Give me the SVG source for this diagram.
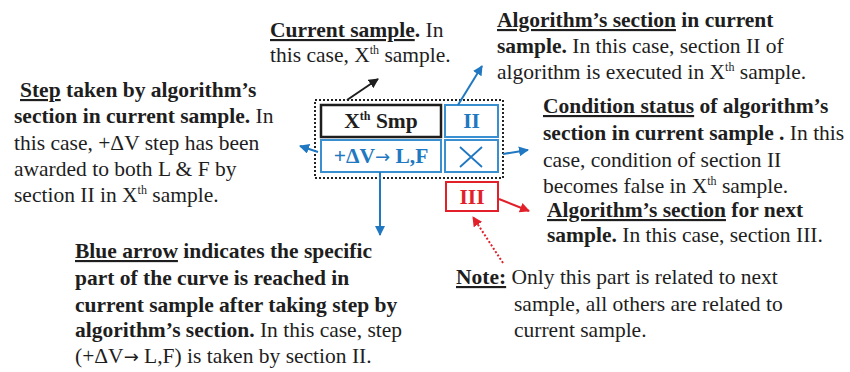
<svg xmlns="http://www.w3.org/2000/svg" width="850" height="372" viewBox="0 0 850 372">
<defs>
<style>
text{font-family:"Liberation Serif","Times New Roman",serif;font-size:21.5px;fill:#1e1e1e}
.b{font-weight:bold}
.u{text-decoration:underline}
.bx{font-weight:bold;font-size:21.5px}
.arw{font-family:"DejaVu Sans",sans-serif;font-weight:normal}
.blue{fill:#1f78c1}
.red{fill:#e2202a}
.dot{fill:none;stroke:#222;stroke-width:2;stroke-dasharray:2 2}
.conn{fill:none;stroke-width:2}
</style>
<marker id="ak" viewBox="0 0 10 10" refX="9" refY="5" markerWidth="5" markerHeight="5" orient="auto"><path d="M0,0L10,5L0,10z" fill="#1e1e1e"/></marker>
<marker id="ab" viewBox="0 0 10 10" refX="9" refY="5" markerWidth="5" markerHeight="5" orient="auto"><path d="M0,0L10,5L0,10z" fill="#1f78c1"/></marker>
<marker id="ar" viewBox="0 0 10 10" refX="9" refY="5" markerWidth="5" markerHeight="5" orient="auto"><path d="M0,0L10,5L0,10z" fill="#e2202a"/></marker>
</defs>
<rect width="850" height="372" fill="#fff"/>

<g id="frame"><rect class="dot" x="315" y="100" width="188" height="78"/></g>

<g id="node-xsmp">
<rect x="321" y="105" width="120" height="32" fill="#fff" stroke="#1e1e1e" stroke-width="2.5"/>
<text class="bx" x="381" y="128" text-anchor="middle">X<tspan font-size="12" dy="-8">th</tspan><tspan dy="8"> Smp</tspan></text>
</g>
<g id="node-II">
<rect x="445" y="105" width="53" height="32" fill="#fff" stroke="#3a8fd0" stroke-width="2"/>
<text class="bx blue" x="471.5" y="128" text-anchor="middle">II</text>
</g>
<g id="node-step">
<rect x="321" y="140" width="120" height="32" fill="#fff" stroke="#3a8fd0" stroke-width="2"/>
<text class="bx blue" x="381" y="163" text-anchor="middle">+ΔV<tspan class="arw" font-size="18">→</tspan> L,F</text>
</g>
<g id="node-cond">
<rect x="445" y="140" width="53" height="32" fill="#fff" stroke="#3a8fd0" stroke-width="2"/>
<path d="M460,147L482,167M482,147L460,167" stroke="#1f78c1" stroke-width="1.8" fill="none"/>
</g>
<g id="node-III">
<rect x="446" y="182" width="52" height="29" fill="#fff" stroke="#e2202a" stroke-width="2"/>
<text class="bx red" x="472" y="204" text-anchor="middle">III</text>
</g>

<g id="connectors">
<line class="conn" x1="347" y1="100" x2="378" y2="79" stroke="#1e1e1e" marker-end="url(#ak)"/>
<line class="conn" x1="458" y1="105" x2="482" y2="66" stroke="#1f78c1" marker-end="url(#ab)"/>
<line class="conn" x1="318" y1="152" x2="300" y2="146" stroke="#1f78c1" marker-end="url(#ab)"/>
<line class="conn" x1="503" y1="154" x2="528" y2="150" stroke="#1f78c1" marker-end="url(#ab)"/>
<line class="conn" x1="380" y1="172" x2="380" y2="235" stroke="#1f78c1" marker-end="url(#ab)"/>
<line class="conn" x1="499" y1="199" x2="529" y2="211" stroke="#e2202a" marker-end="url(#ar)"/>
<line class="conn" x1="503" y1="263" x2="473" y2="217" stroke="#e2202a" stroke-dasharray="2 2" marker-end="url(#ar)"/>
</g>

<g id="label-current">
<text x="270" y="37"><tspan class="b u">Current sample</tspan><tspan class="b">.</tspan> In</text>
<text x="270" y="62">this case, X<tspan font-size="12" dy="-8">th</tspan><tspan dy="8"> sample.</tspan></text>
</g>
<g id="label-step">
<text x="20" y="97"><tspan class="b u">Step</tspan><tspan class="b"> taken by algorithm’s</tspan></text>
<text x="14" y="123"><tspan class="b">section in current sample.</tspan> In</text>
<text x="14" y="150">this case, +ΔV step has been</text>
<text x="14" y="176">awarded to both L &amp; F by</text>
<text x="14" y="202">section II in X<tspan font-size="12" dy="-8">th</tspan><tspan dy="8"> sample.</tspan></text>
</g>
<g id="label-section">
<text x="497" y="27"><tspan class="b u">Algorithm’s section</tspan><tspan class="b"> in current</tspan></text>
<text x="497" y="53"><tspan class="b">sample.</tspan> In this case, section II of</text>
<text x="497" y="79">algorithm is executed in X<tspan font-size="12" dy="-8">th</tspan><tspan dy="8"> sample.</tspan></text>
</g>
<g id="label-condition">
<text x="543" y="113"><tspan class="b u">Condition status</tspan><tspan class="b"> of algorithm’s</tspan></text>
<text x="543" y="140"><tspan class="b">section in current sample .</tspan> In this</text>
<text x="543" y="167">case, condition of section II</text>
<text x="543" y="193">becomes false in X<tspan font-size="12" dy="-8">th</tspan><tspan dy="8"> sample.</tspan></text>
</g>
<g id="label-next">
<text x="547" y="217"><tspan class="b u">Algorithm’s section</tspan><tspan class="b"> for next</tspan></text>
<text x="547" y="242"><tspan class="b">sample.</tspan> In this case, section III.</text>
</g>
<g id="label-note">
<text x="456" y="284"><tspan class="b u">Note:</tspan> Only this part is related to next</text>
<text x="514" y="311">sample, all others are related to</text>
<text x="514" y="337">current sample.</text>
</g>
<g id="label-blue">
<text x="75" y="258"><tspan class="b u">Blue arrow</tspan><tspan class="b"> indicates the specific</tspan></text>
<text x="75" y="285" class="b">part of the curve is reached in</text>
<text x="75" y="312" class="b">current sample after taking step by</text>
<text x="75" y="337"><tspan class="b">algorithm’s section.</tspan> In this case, step</text>
<text x="75" y="363">(+ΔV<tspan class="arw" font-size="18">→</tspan> L,F) is taken by section II.</text>
</g>
</svg>
